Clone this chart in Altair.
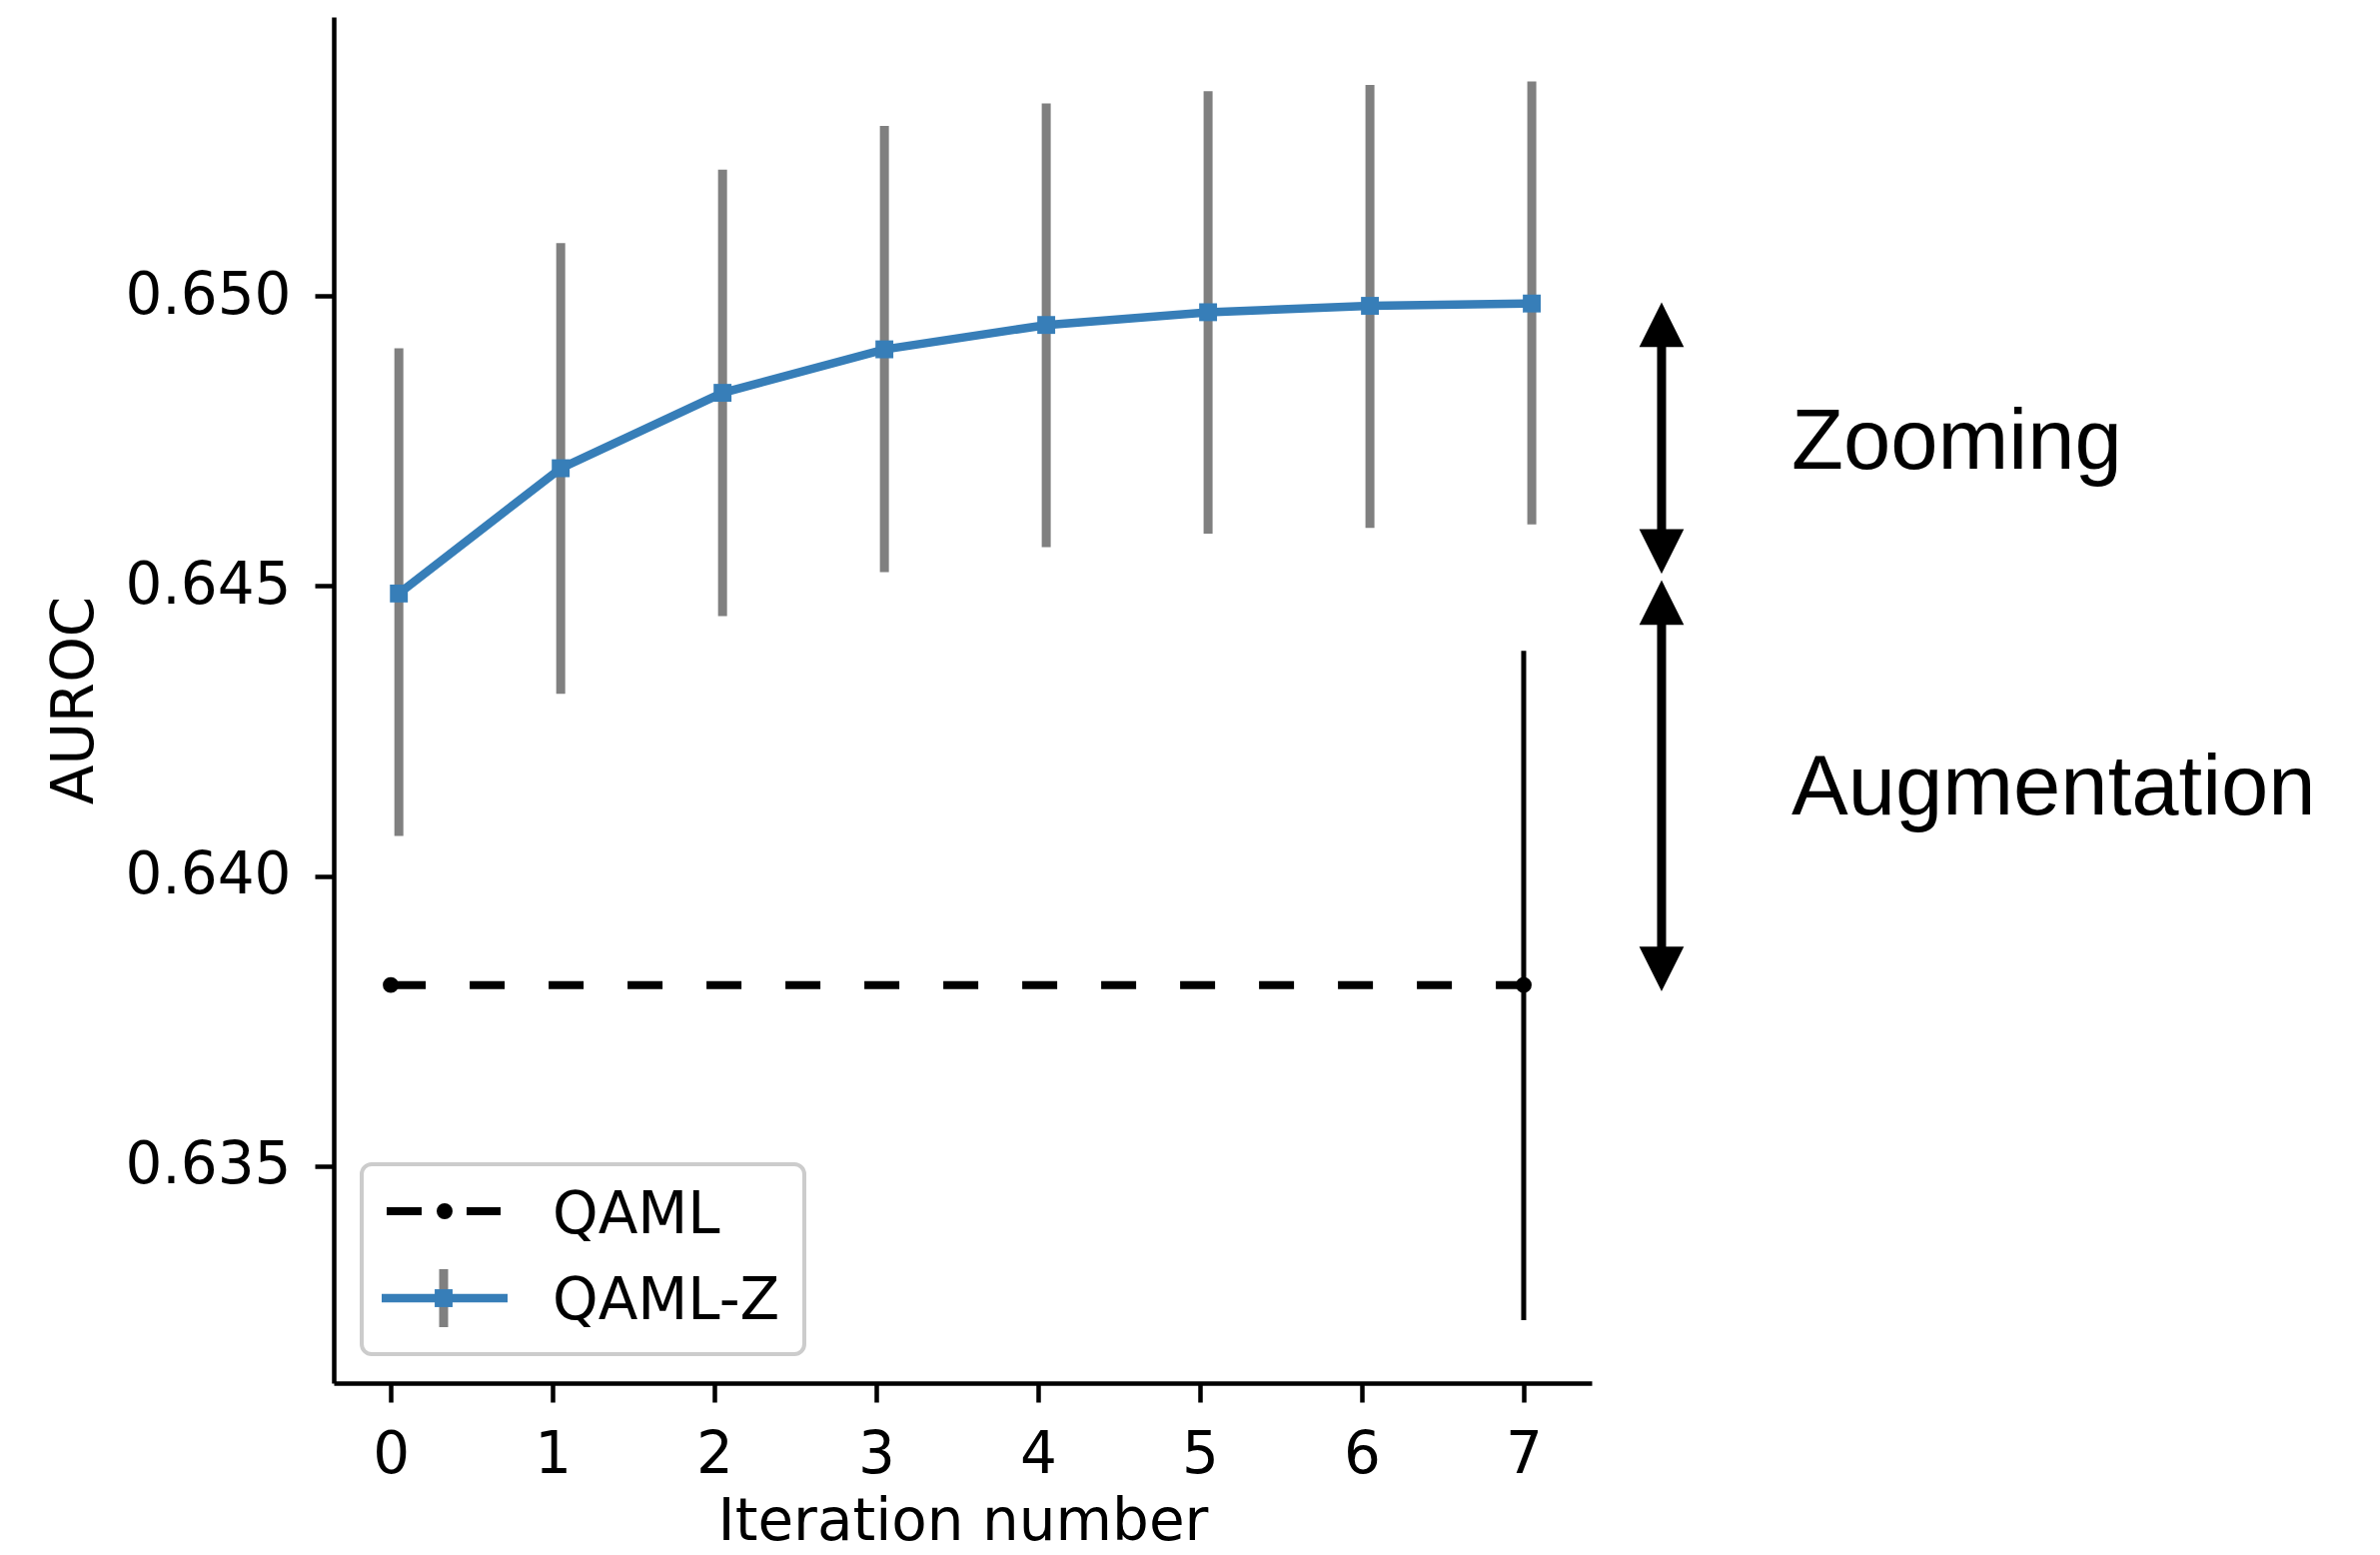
import altair as alt
import pandas as pd

# ---------------- data ----------------
iterations = [0, 1, 2, 3, 4, 5, 6, 7]
series_names = ["QAML", "QAML-Z"]

# QAML-Z (slightly dodged to the right)
qamlz_x = [0.05, 1.05, 2.05, 3.05, 4.05, 5.05, 6.05, 7.05]
qamlz_mean = [0.64487, 0.64703, 0.64833, 0.64908, 0.64950, 0.64972, 0.64983, 0.64987]
qamlz_lo = [0.64069, 0.64314, 0.64448, 0.64524, 0.64567, 0.64590, 0.64600, 0.64606]
qamlz_hi = [0.64910, 0.65091, 0.65218, 0.65293, 0.65332, 0.65353, 0.65364, 0.65370]

# QAML baseline
qaml_x = [0, 7]
qaml_mean = [0.63812, 0.63812]
qaml_err_x = [7]
qaml_err_lo = [0.63234]
qaml_err_hi = [0.64388]

# annotations (data coordinates)
arrow_x = [7.852, 7.852]
arrow_top = [0.64989, 0.64510]
arrow_bottom = [0.64521, 0.63801]
note_x = [8.655, 8.655]
note_y = [0.647023, 0.641061]
note_text = ["Zooming", "Augmentation"]

# ---------------- styling ----------------
FONT = "DejaVu Sans"
FS = 58
BLUE = "#377eb8"
GRAY = "#808080"

x_scale = alt.Scale(domain=[-0.3525, 7.42], nice=False, zero=False)
y_scale = alt.Scale(domain=[0.631256, 0.65481], nice=False, zero=False)

df_z = pd.DataFrame({"x": qamlz_x, "mean": qamlz_mean, "lo": qamlz_lo, "hi": qamlz_hi})
df_q = pd.DataFrame({"x": qaml_x, "mean": qaml_mean})
df_qe = pd.DataFrame({"x": qaml_err_x, "lo": qaml_err_lo, "hi": qaml_err_hi})
df_ar = pd.DataFrame({"x": arrow_x, "top": arrow_top, "bottom": arrow_bottom})
df_nt = pd.DataFrame({"x": note_x, "y": note_y, "t": note_text})

X_AXIS = alt.Axis(values=iterations, format="d", title="Iteration number",
                  titlePadding=9)
Y_AXIS = alt.Axis(values=[0.635, 0.640, 0.645, 0.650], format=".3f", title="AUROC",
                  titlePadding=30)


def X(field):
    return alt.X(field, scale=x_scale, axis=X_AXIS)


def Y(field):
    return alt.Y(field, scale=y_scale, axis=Y_AXIS)


gray_bars = alt.Chart(df_z).mark_rule(color=GRAY, strokeWidth=9).encode(
    x=X("x:Q"), y=Y("lo:Q"), y2="hi:Q")

blue_line = alt.Chart(df_z).mark_line(color=BLUE, strokeWidth=8.5).encode(
    x=X("x:Q"), y=Y("mean:Q"))

blue_sq = alt.Chart(df_z).mark_point(shape="square", filled=True, size=320,
                                     color=BLUE, opacity=1).encode(
    x=X("x:Q"), y=Y("mean:Q"))

qaml_bar = alt.Chart(df_qe).mark_rule(color="black", strokeWidth=5).encode(
    x=X("x:Q"), y=Y("lo:Q"), y2="hi:Q")

qaml_line = alt.Chart(df_q).mark_line(color="black", strokeWidth=8, strokeDash=[35, 44],
                                      strokeCap="butt").encode(
    x=X("x:Q"), y=Y("mean:Q"))

qaml_pts = alt.Chart(df_q).mark_point(shape="circle", filled=True, size=254,
                                      color="black", opacity=1).encode(
    x=X("x:Q"), y=Y("mean:Q"))

shafts = alt.Chart(df_ar).mark_rule(color="black", strokeWidth=9,
                                    yOffset=38, y2Offset=-38).encode(
    x=X("x:Q"), y=Y("top:Q"), y2="bottom:Q")

HEAD = 1998
head_up = alt.Chart(df_ar).mark_point(shape="M0,0L-1,2L1,2Z", filled=True, size=HEAD,
                                      color="black", opacity=1, strokeWidth=0).encode(
    x=X("x:Q"), y=Y("top:Q"))
head_down = alt.Chart(df_ar).mark_point(shape="M0,0L-1,-2L1,-2Z", filled=True, size=HEAD,
                                        color="black", opacity=1, strokeWidth=0).encode(
    x=X("x:Q"), y=Y("bottom:Q"))

notes = alt.Chart(df_nt).mark_text(font="Liberation Sans", fontSize=85, align="left",
                                   baseline="alphabetic", color="black").encode(
    x=X("x:Q"), y=Y("y:Q"), text="t:N")

# ---------------- legend (drawn manually in the lower-left corner of the axes) ----------------
one = pd.DataFrame({"k": [0]})
leg_box = alt.Chart(one).mark_rect(fill="white", stroke="#cccccc", strokeWidth=4,
                                   cornerRadius=10, opacity=1).encode(
    x=alt.value(28), x2=alt.value(471), y=alt.value(1148), y2=alt.value(1338))
leg_d1 = alt.Chart(one).mark_rule(color="black", strokeWidth=8).encode(
    x=alt.value(53), x2=alt.value(88), y=alt.value(1195))
leg_d2 = alt.Chart(one).mark_rule(color="black", strokeWidth=8).encode(
    x=alt.value(133), x2=alt.value(167), y=alt.value(1195))
leg_dot = alt.Chart(one).mark_point(shape="circle", filled=True, size=254, color="black",
                                    opacity=1).encode(x=alt.value(111), y=alt.value(1195))
leg_gray = alt.Chart(one).mark_rule(color=GRAY, strokeWidth=9).encode(
    x=alt.value(110), y=alt.value(1253), y2=alt.value(1311))
leg_blue = alt.Chart(one).mark_rule(color=BLUE, strokeWidth=8.5).encode(
    x=alt.value(48), x2=alt.value(174), y=alt.value(1282))
leg_sq = alt.Chart(one).mark_point(shape="square", filled=True, size=320, color=BLUE,
                                   opacity=1).encode(x=alt.value(110), y=alt.value(1282))
leg_t1 = alt.Chart(pd.DataFrame({"t": [series_names[0]]})).mark_text(
    font=FONT, fontSize=FS, align="left", baseline="alphabetic", color="black").encode(
    x=alt.value(219), y=alt.value(1217), text="t:N")
leg_t2 = alt.Chart(pd.DataFrame({"t": [series_names[1]]})).mark_text(
    font=FONT, fontSize=FS, align="left", baseline="alphabetic", color="black").encode(
    x=alt.value(219), y=alt.value(1303), text="t:N")

chart = alt.layer(
    gray_bars, blue_line, blue_sq, qaml_bar, qaml_line, qaml_pts,
    shafts, head_up, head_down, notes,
    leg_box, leg_d1, leg_d2, leg_dot, leg_gray, leg_blue, leg_sq, leg_t1, leg_t2,
).properties(
    width=1259, height=1367,
    autosize=alt.AutoSizeParams(type="none"),
    padding={"left": 334, "top": 17, "right": 789, "bottom": 172},
    background="white",
).configure_view(stroke=None).configure_axis(
    grid=False,
    domainColor="black", domainWidth=4.5,
    tickColor="black", tickWidth=4.5, tickSize=19,
    labelFont=FONT, labelFontSize=FS, labelColor="black", labelPadding=24,
    titleFont=FONT, titleFontSize=FS, titleColor="black", titleFontWeight="normal",
)

chart.save("out.html", embed_options={"renderer": "svg", "actions": False})
